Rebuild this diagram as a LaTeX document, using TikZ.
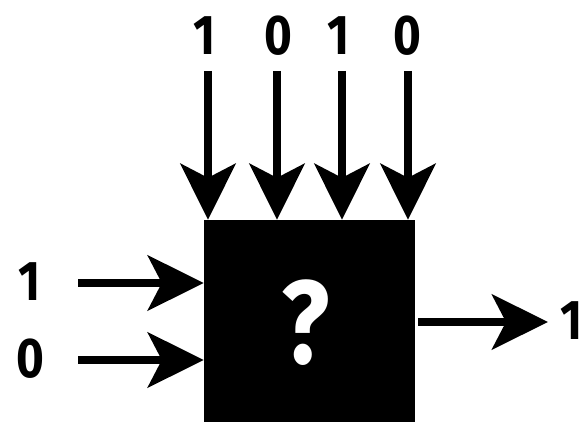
\documentclass[tikz,border=0pt]{standalone}
\usepackage{fontspec}
\setmainfont{Fira Sans}[FakeStretch=0.85]
\usetikzlibrary{arrows.meta}
\tikzset{
  lbl/.style={font=\fontsize{56}{60}\selectfont\bfseries, inner sep=0pt, anchor=center},
  sig/.style={line width=8pt, -{Stealth[length=56pt,width=55pt,inset=14pt]}},
  blackbox/.style={fill=black, draw=none, minimum width=211pt, minimum height=202pt, inner sep=0pt,
    text=white, font=\fontsize{118}{120}\selectfont\bfseries}
}
\begin{document}
\begin{tikzpicture}[x=1pt,y=1pt]
\useasboundingbox (0,0) rectangle (579,422);
\node[blackbox] (box) at (309.5,101) {};
\node[text=white, font=\fontsize{118}{120}\selectfont\bfseries, inner sep=0pt] (q) at (305.5,99) {?};
% top inputs
\node[lbl] (t1) at (205,386) {1};
\node[lbl] (t2) at (278,386) {0};
\node[lbl] (t3) at (339,386) {1};
\node[lbl] (t4) at (407,386) {0};
\coordinate (s1) at (208,351);
\coordinate (s2) at (277,351);
\coordinate (s3) at (342,351);
\coordinate (s4) at (408,351);
\draw[sig] (s1) -- (s1 |- box.north);
\draw[sig] (s2) -- (s2 |- box.north);
\draw[sig] (s3) -- (s3 |- box.north);
\draw[sig] (s4) -- (s4 |- box.north);
% left inputs
\node[lbl] (l1) at (30,140) {1};
\node[lbl] (l2) at (30,63) {0};
\coordinate (a1) at (78,139);
\coordinate (a2) at (78,62);
\draw[sig] (a1) -- (a1 -| box.west);
\draw[sig] (a2) -- (a2 -| box.west);
% output
\coordinate (o) at (548,100);
\draw[sig, shorten <=3pt] (box.east |- o) -- (o);
\node[lbl, anchor=west] (out) at (560,101) {1};
\end{tikzpicture}
\end{document}
